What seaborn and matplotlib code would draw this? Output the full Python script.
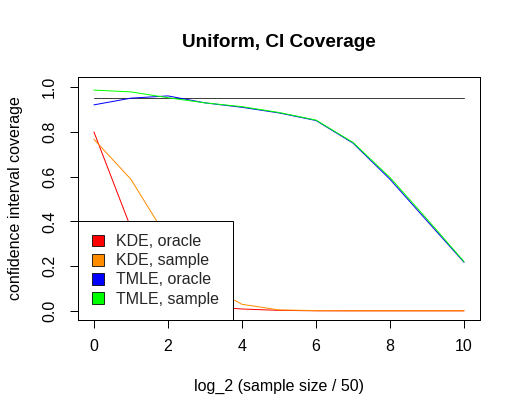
import numpy as np
import pandas as pd
import matplotlib
matplotlib.use("Agg")
import matplotlib.pyplot as plt
from matplotlib.patches import Patch
import seaborn as sns

# log_2 (sample size / 50)
x = [0, 1, 2, 3, 4, 5, 6, 7, 8, 9, 10]

kde_oracle = [0.80, 0.37, 0.10, 0.02, 0.008, 0.002, 0.0, 0.0, 0.0, 0.0, 0.0]
kde_sample = [0.767, 0.588, 0.32, 0.12, 0.029, 0.004, 0.001, 0.0, 0.0, 0.0, 0.0]
tmle_oracle = [0.921, 0.951, 0.961, 0.93, 0.91, 0.885, 0.851, 0.750, 0.588, 0.402, 0.217]
tmle_sample = [0.987, 0.979, 0.953, 0.93, 0.913, 0.887, 0.853, 0.753, 0.596, 0.410, 0.220]

nominal = 0.95

labels = ["KDE, oracle", "KDE, sample", "TMLE, oracle", "TMLE, sample"]
colors = ["#FF0000", "#FF8C00", "#0000FF", "#00FF00"]

df = pd.concat([
    pd.DataFrame({"x": x, "coverage": vals, "method": lab})
    for lab, vals in zip(labels, [kde_oracle, kde_sample, tmle_oracle, tmle_sample])
], ignore_index=True)

sns.set_theme(style="ticks")
plt.rcParams["font.family"] = ["Liberation Sans", "DejaVu Sans"]

fig = plt.figure(figsize=(520 / 72, 418 / 72), dpi=72)
ax = fig.add_axes([0.15, 0.234, 0.773, 0.582])

ax.plot([0, 10], [nominal, nominal], color="#404040", lw=1)
sns.lineplot(data=df, x="x", y="coverage", hue="method", hue_order=labels,
             palette=colors, linewidth=1, legend=False, ax=ax)

ax.set_xlim(-0.43, 10.43)
ax.set_ylim(-0.042, 1.046)
ax.set_xticks([0, 2, 4, 6, 8, 10])
ax.set_yticks([0.0, 0.2, 0.4, 0.6, 0.8, 1.0])
ax.set_yticklabels(["0.0", "0.2", "0.4", "0.6", "0.8", "1.0"], rotation=90, va="center")
ax.tick_params(axis="both", direction="out", length=8, width=1, color="black",
               labelsize=16, labelcolor="black", pad=11)
ax.tick_params(axis="y", pad=13)
for s in ax.spines.values():
    s.set_color("black")
    s.set_linewidth(1)

ax.set_xlabel("log_2 (sample size / 50)", fontsize=16, labelpad=25, color="black")
ax.set_ylabel("confidence interval coverage", fontsize=16, labelpad=19, color="black")
ax.set_title("Uniform, CI Coverage", fontsize=19, fontweight="bold", pad=30, color="black")

handles = [Patch(facecolor=c, edgecolor="black", linewidth=0.8) for c in colors]
leg = ax.legend(handles, labels, loc="lower left", bbox_to_anchor=(0, 0),
                frameon=True, fancybox=False, fontsize=16, borderpad=0.85,
                handlelength=0.75, handleheight=0.75, handletextpad=0.8,
                labelspacing=0.26, borderaxespad=0)
leg.get_frame().set_edgecolor("black")
leg.get_frame().set_linewidth(1)
leg.get_frame().set_alpha(1)

fig.savefig("out.png", dpi=72, facecolor="white")
